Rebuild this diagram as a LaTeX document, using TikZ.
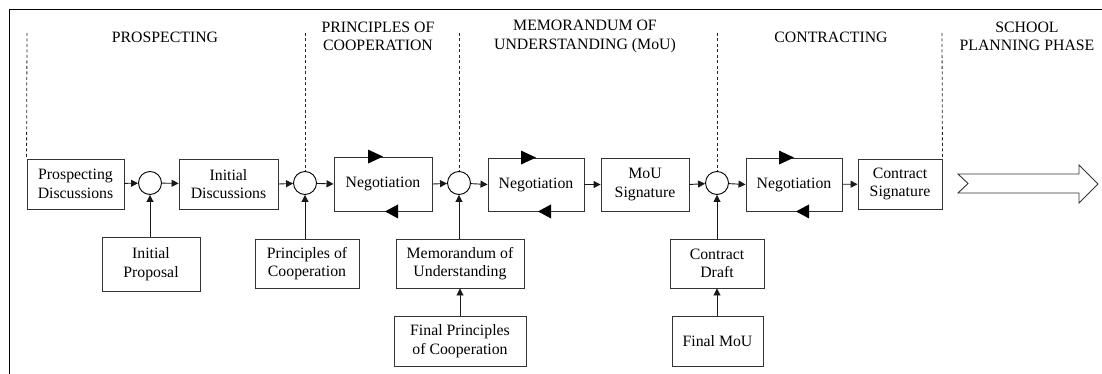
\documentclass[tikz,border=0pt]{standalone}
\usepackage{fontspec}
\setmainfont{Liberation Serif}
\usetikzlibrary{arrows.meta,calc}
\begin{document}
\begin{tikzpicture}[x=1pt,y=-1pt,
  every node/.style={font=\fontsize{15.8}{18.5}\selectfont, text=black},
  box/.style={draw=black!80, line width=0.9pt, align=center, inner sep=0pt},
  junc/.style={circle, draw=black, line width=0.9pt, minimum size=23pt, inner sep=0pt},
  phase/.style={align=center, inner sep=0pt},
  conn/.style={line width=0.9pt, draw=black!90, -{Triangle[length=7pt,width=7pt]}},
  sep/.style={draw=black!85, line width=0.8pt, dash pattern=on 3pt off 2.5pt},
  loophead/.style={fill=black}
]
\useasboundingbox (0,0) rectangle (1102,374);
% frame
\draw[line width=1.2pt] (1102,9.5) -- (9.5,9.5) -- (9.5,374);

% phase titles
\node[phase] (t1) at (165,37) {PROSPECTING};
\node[phase] (t2) at (378,36.5) {PRINCIPLES OF\\COOPERATION};
\node[phase] (t3) at (585,36.5) {MEMORANDUM OF\\UNDERSTANDING (MoU)};
\node[phase] (t4) at (831,37) {CONTRACTING};
\node[phase] (t5) at (1027,36.5) {SCHOOL\\PLANNING PHASE};

% main row
\node[box, minimum width=97pt, minimum height=50pt] (pd) at (75.5,184) {Prospecting\\Discussions};
\node[junc] (c1) at (150,183) {};
\node[box, minimum width=99pt, minimum height=50pt] (id) at (228.5,184) {Initial\\Discussions};
\node[junc] (c2) at (305,183) {};
\node[box, minimum width=98pt, minimum height=54pt] (n1) at (383,184) {Negotiation};
\node[junc] (c3) at (459,183) {};
\node[box, minimum width=96pt, minimum height=53pt] (n2) at (536,184.5) {Negotiation};
\node[box, minimum width=88pt, minimum height=53pt] (mou) at (645,184.5) {MoU\\Signature};
\node[junc] (c4) at (717,183) {};
\node[box, minimum width=96pt, minimum height=53pt] (n3) at (794,184.5) {Negotiation};
\node[box, minimum width=84pt, minimum height=50pt] (cs) at (900,184) {Contract\\Signature};

% lower rows
\node[box, minimum width=98pt, minimum height=54pt] (ip) at (151,264) {Initial\\Proposal};
\node[box, minimum width=104pt, minimum height=49pt] (pc) at (307,263.5) {Principles of\\Cooperation};
\node[box, minimum width=128pt, minimum height=49pt] (mu) at (460,263.5) {Memorandum of\\Understanding};
\node[box, minimum width=132pt, minimum height=50pt] (fpc) at (460,341) {Final Principles\\of Cooperation};
\node[box, minimum width=94pt, minimum height=49pt] (cd) at (717,263.5) {Contract\\Draft};
\node[box, minimum width=91pt, minimum height=50pt] (fm) at (717.5,341) {Final MoU};

% phase separators
\coordinate (s1) at (27,33);
\coordinate (s2) at (305,33);
\coordinate (s3) at (459,33);
\coordinate (s4) at (717,33);
\coordinate (s5) at (942,33);
\draw[sep] (s1) -- (pd.north west);
\draw[sep] (s2) -- (c2.north);
\draw[sep] (s3) -- (c3.north);
\draw[sep] (s4) -- (c4.north);
\draw[sep] (s5) -- (cs.north east);

% horizontal connectors
\draw[conn] (pd) -- (c1);
\draw[conn] (c1) -- (id);
\draw[conn] (id.east) -- (c2);
\draw[conn] (c2) -- (n1.west);
\draw[conn] (n1.east) -- (c3);
\draw[conn] (c3) -- (n2.west);
\draw[conn] (n2) -- (mou);
\draw[conn] (mou.east) -- (c4);
\draw[conn] (c4) -- (n3.west);
\draw[conn] (n3) -- (cs);

% vertical connectors
\draw[conn] (c1 |- ip.north) -- (c1.south);
\draw[conn] (c2 |- pc.north) -- (c2.south);
\draw[conn] (c3 |- mu.north) -- (c3.south);
\draw[conn] (fpc.north) -- (mu.south);
\draw[conn] (c4 |- cd.north) -- (c4.south);
\draw[conn] (cd |- fm.north) -- (cd.south);

% negotiation loop arrowheads
\foreach \n in {n1,n2,n3}{
  \fill[loophead] ($(\n.north)+(-15,-7)$) -- ++(15,7) -- ++(-15,7) -- cycle;
  \fill[loophead] ($(\n.south)+(2,0)$) -- ++(13,-7) -- ++(0,14) -- cycle;
}

% block arrow to school planning phase
\draw[draw=black!80, line width=0.9pt, fill=white]
  (958,174) -- (1079,174) -- (1079,165) -- (1098,184) -- (1079,203)
  -- (1079,193) -- (958,193) -- (968,183.5) -- cycle;
\end{tikzpicture}
\end{document}
